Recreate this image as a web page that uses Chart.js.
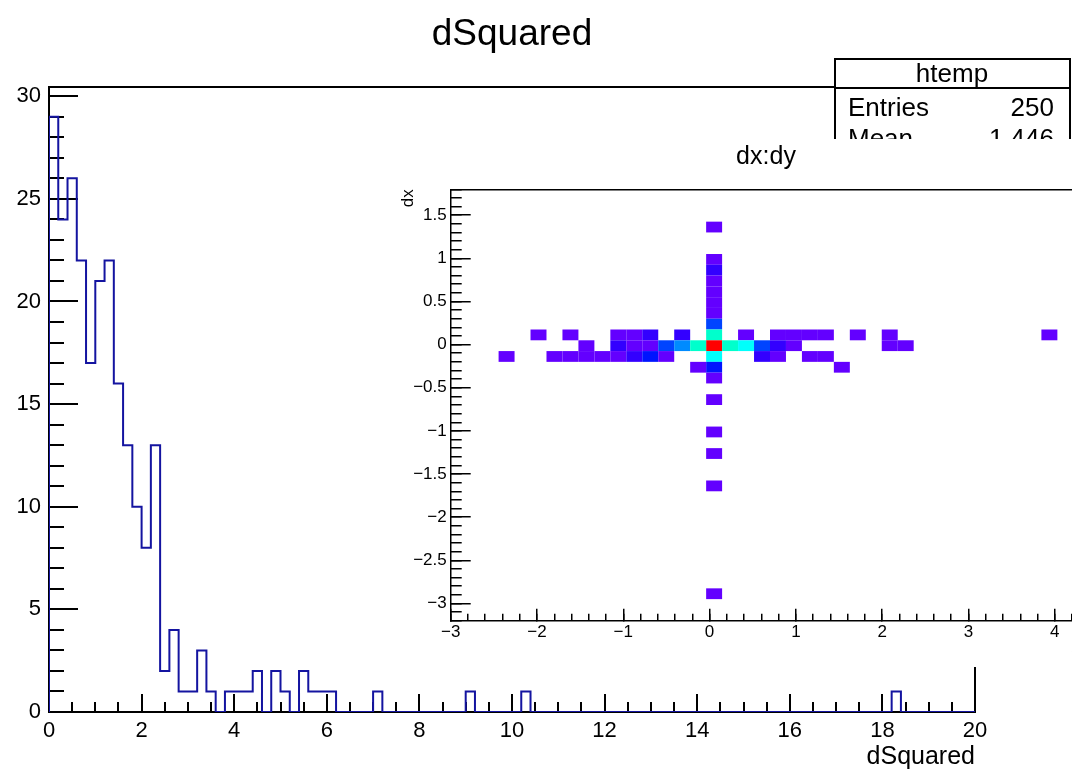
<!DOCTYPE html>
<html>
<head>
<meta charset="utf-8">
<title>dSquared</title>
<script src="https://cdn.jsdelivr.net/npm/chart.js@4.4.1/dist/chart.umd.min.js"></script>
<style>
html, body { margin: 0; padding: 0; background: #fff; overflow: hidden; width: 1072px; height: 773px; }
#dsqChart { position: absolute; left: 0; top: 0; }
#dxdyPad { position: absolute; left: 390px; top: 139px; width: 720px; height: 528px; background: #fff; }
</style>
</head>
<body>
<canvas id="dsqChart" width="1072" height="773"></canvas>
<div id="dxdyPad"><canvas id="dxdyChart" width="720" height="528"></canvas></div>
<script>
//////////////////////////////////
//   dSquared + dx:dy inset     //
//////////////////////////////////

// htemp : dSquared, 100 bins of 0.2 from 0
var dsqLow = 0;
var dsqBinWidth = 0.2;
var dsqCounts = [
    29, 24, 26, 22, 17, 21, 22, 16, 13, 10,
    8, 13, 2, 4, 1, 1, 3, 1, 0, 1,
    1, 1, 2, 0, 2, 1, 0, 2, 1, 1,
    1, 0, 0, 0, 0, 1, 0, 0, 0, 0,
    0, 0, 0, 0, 0, 1, 0, 0, 0, 0,
    0, 1, 0, 0, 0, 0, 0, 0, 0, 0,
    0, 0, 0, 0, 0, 0, 0, 0, 0, 0,
    0, 0, 0, 0, 0, 0, 0, 0, 0, 0,
    0, 0, 0, 0, 0, 0, 0, 0, 0, 0,
    0, 1, 0, 0, 0, 0, 0, 0, 0, 0
];
var dsqMean = '1.446';

// dx:dy, 40x40 bins (dy on the horizontal axis, dx on the vertical one)
var nBins2d = 40;
var dyLow = -3;
var dyBinWidth = 0.185;
var dxLow = -3.2;
var dxBinWidth = 0.125;
// filled cells only: bin along dy, bin along dx, entries
var cellIx = [
    16, 16, 16, 16, 16, 16, 16, 16, 16, 16, 16, 16, 16, 16, 16, 16, 16, 16,
    5, 7, 10, 11, 12, 14, 18, 20, 21, 22, 23, 25, 27, 37,
    8, 10, 11, 12, 13, 14, 15, 17, 18, 19, 20, 21, 27, 28,
    3, 6, 7, 8, 9, 10, 11, 12, 13, 19, 20, 22, 23,
    15, 24
];
var cellIy = [
    36, 33, 32, 31, 30, 29, 28, 27, 26, 25, 24, 23, 22, 20, 17, 15, 12, 2,
    26, 26, 26, 26, 26, 26, 26, 26, 26, 26, 26, 26, 26, 26,
    25, 25, 25, 25, 25, 25, 25, 25, 25, 25, 25, 25, 25, 25,
    24, 24, 24, 24, 24, 24, 24, 24, 24, 24, 24, 24, 24,
    23, 23
];
var cellCount = [
    1, 1, 3, 1, 1, 1, 1, 8, 18, 50, 16, 6, 1, 1, 1, 1, 1, 1,
    1, 1, 1, 1, 3, 3, 1, 1, 1, 1, 1, 1, 1, 1,
    1, 3, 1, 1, 8, 11, 18, 18, 16, 8, 3, 1, 1, 1,
    1, 1, 1, 1, 1, 1, 3, 6, 1, 3, 1, 1, 1,
    1, 1
];

var fontFamily = '"Liberation Sans", Arial, Helvetica, sans-serif';
Chart.defaults.font.family = fontFamily;
Chart.defaults.color = '#000';

// step outline of the 1D histogram, starting and ending on the baseline
var histPoints = [{ x: dsqLow, y: 0 }];
for (var i = 0; i < dsqCounts.length; i++) {
    histPoints.push({ x: dsqLow + i * dsqBinWidth, y: dsqCounts[i] });
}
histPoints.push({ x: dsqLow + dsqCounts.length * dsqBinWidth, y: 0 });
var dsqEntries = dsqCounts.reduce(function (a, b) { return a + b; }, 0);
var dsqTop = Math.max.apply(null, dsqCounts) * 1.05;

// ticks on every multiple of step inside the axis range
function everyStep(step) {
    return function (scale) {
        var ticks = [];
        var first = Math.ceil(scale.min / step - 1e-6);
        var last = Math.floor(scale.max / step + 1e-6);
        for (var k = first; k <= last; k++) {
            ticks.push({ value: Math.round(k * step * 1000) / 1000 });
        }
        scale.ticks = ticks;
    };
}

function tickText(value) {
    return String(value).replace('-', '\u2212');
}

// linear axis with inward tick marks; minor axes only carry the short marks
function makeAxis(position, min, max, step, tickLength, lineWidth, size, labels) {
    return {
        type: 'linear',
        position: position,
        min: min,
        max: max,
        bounds: 'data',
        z: 1,
        weight: labels ? 1 : 0,
        border: { display: !!labels, color: '#000', width: lineWidth },
        grid: { drawOnChartArea: false, color: '#000', lineWidth: lineWidth, tickLength: -tickLength },
        ticks: labels ? {
            autoSkip: false,
            maxRotation: 0,
            padding: labels.padding,
            font: { size: labels.size },
            color: '#000',
            callback: function (value) { return tickText(value); }
        } : { display: false },
        afterBuildTicks: everyStep(step),
        afterFit: function (scale) {
            if (scale.isHorizontal()) scale.height = size; else scale.width = size;
        }
    };
}

// plain frame line (top / right side of the frame)
function frameAxis(position, min, max, lineWidth) {
    return {
        type: 'linear',
        position: position,
        min: min,
        max: max,
        bounds: 'data',
        z: 1,
        border: { display: true, color: '#000', width: lineWidth },
        grid: { display: false },
        ticks: { display: false },
        afterFit: function (scale) {
            if (scale.isHorizontal()) scale.height = 0; else scale.width = 0;
        }
    };
}

// titles and the stat box of the main pad
var dsqDecor = {
    id: 'dsqDecor',
    afterDraw: function (chart) {
        var ctx = chart.ctx;
        var area = chart.chartArea;
        ctx.save();
        ctx.fillStyle = '#000';
        ctx.textBaseline = 'alphabetic';

        ctx.font = '37px ' + fontFamily;
        ctx.textAlign = 'center';
        ctx.fillText('dSquared', 512, 45);

        ctx.font = '25px ' + fontFamily;
        ctx.textAlign = 'right';
        ctx.fillText('dSquared', area.right, 764);

        // stat box
        ctx.fillStyle = '#fff';
        ctx.fillRect(835, 59, 235, 120);
        ctx.strokeStyle = '#000';
        ctx.lineWidth = 2;
        ctx.strokeRect(835, 59, 235, 120);
        ctx.beginPath();
        ctx.moveTo(835, 88);
        ctx.lineTo(1070, 88);
        ctx.stroke();

        ctx.fillStyle = '#000';
        ctx.font = '26px ' + fontFamily;
        ctx.textAlign = 'center';
        ctx.fillText('htemp', 952, 82);
        ctx.textAlign = 'left';
        ctx.fillText('Entries', 848, 116);
        ctx.fillText('Mean', 848, 147);
        ctx.textAlign = 'right';
        ctx.fillText(String(dsqEntries), 1054, 116);
        ctx.fillText(dsqMean, 1054, 147);
        ctx.restore();
    }
};

var dsqChart = new Chart(document.getElementById('dsqChart'), {
    type: 'line',
    data: {
        datasets: [{
            label: 'htemp',
            data: histPoints,
            stepped: true,
            fill: false,
            tension: 0,
            borderColor: '#1414a0',
            borderWidth: 2,
            pointRadius: 0
        }]
    },
    options: {
        responsive: false,
        animation: false,
        events: [],
        layout: { padding: { left: 0, top: 87, right: 97, bottom: 0 } },
        plugins: {
            legend: { display: false },
            tooltip: { enabled: false }
        },
        scales: {
            x: makeAxis('bottom', 0, 20, 2, 18, 2, 61, { padding: 24, size: 22 }),
            xMinor: makeAxis('bottom', 0, 20, 0.5, 10, 2, 0, null),
            y: makeAxis('left', 0, dsqTop, 5, 29, 2, 49, { padding: 37, size: 22 }),
            yMinor: makeAxis('left', 0, dsqTop, 1, 15, 2, 0, null),
            xTop: frameAxis('top', 0, 20, 2),
            yRight: frameAxis('right', 0, dsqTop, 2)
        }
    },
    plugins: [dsqDecor]
});

/* dx:dy colour palette, violet -> red in 50 hues, 20 contour levels */
function paletteColor(index) {
    var hue = 280 - (index + 1) * 280 / 50;
    function chan(h) {
        if (h > 360) h -= 360;
        if (h < 0) h += 360;
        if (h < 60) return h / 60;
        if (h < 180) return 1;
        if (h < 240) return (240 - h) / 60;
        return 0;
    }
    return 'rgb(' + Math.round(chan(hue + 120) * 255) + ',' +
        Math.round(chan(hue) * 255) + ',' +
        Math.round(chan(hue - 120) * 255) + ')';
}

function levelColor(count, zmax) {
    var level = Math.floor(0.01 + count * 20 / zmax);
    var index = Math.min(49, Math.floor((level + 0.99) * 50 / 20));
    return paletteColor(index);
}

var dxdyDecor = {
    id: 'dxdyDecor',
    beforeDatasetsDraw: function (chart) {
        var ctx = chart.ctx;
        var xs = chart.scales.x;
        var ys = chart.scales.y;
        var zmax = Math.max.apply(null, cellCount);
        ctx.save();
        for (var c = 0; c < cellCount.length; c++) {
            var x0 = xs.getPixelForValue(dyLow + cellIx[c] * dyBinWidth);
            var x1 = xs.getPixelForValue(dyLow + (cellIx[c] + 1) * dyBinWidth);
            var y0 = ys.getPixelForValue(dxLow + (cellIy[c] + 1) * dxBinWidth);
            var y1 = ys.getPixelForValue(dxLow + cellIy[c] * dxBinWidth);
            ctx.fillStyle = levelColor(cellCount[c], zmax);
            ctx.fillRect(x0, y0, x1 - x0, y1 - y0);
        }
        ctx.restore();
    },
    afterDraw: function (chart) {
        var ctx = chart.ctx;
        var area = chart.chartArea;
        ctx.save();
        ctx.fillStyle = '#000';
        ctx.textBaseline = 'alphabetic';

        ctx.font = '25px ' + fontFamily;
        ctx.textAlign = 'center';
        ctx.fillText('dx:dy', 376, 25);

        ctx.font = '17px ' + fontFamily;
        ctx.textAlign = 'right';
        ctx.fillText('dy', area.right, 517);

        ctx.translate(23, area.top);
        ctx.rotate(-Math.PI / 2);
        ctx.fillText('dx', 0, 0);
        ctx.restore();
    }
};

var dyHigh = dyLow + nBins2d * dyBinWidth;
var dxHigh = dxLow + nBins2d * dxBinWidth;

var dxdyChart = new Chart(document.getElementById('dxdyChart'), {
    type: 'scatter',
    data: { datasets: [] },
    options: {
        responsive: false,
        animation: false,
        events: [],
        layout: { padding: { left: 0, top: 50.3, right: 20.7, bottom: 0 } },
        plugins: {
            legend: { display: false },
            tooltip: { enabled: false }
        },
        scales: {
            x: makeAxis('bottom', dyLow, dyHigh, 1, 12, 1.5, 46.3, { padding: 13, size: 17 }),
            xMinor: makeAxis('bottom', dyLow, dyHigh, 0.2, 7, 1.5, 0, null),
            y: makeAxis('left', dxLow, dxHigh, 0.5, 20, 1.5, 60.7, { padding: 24, size: 17 }),
            yMinor: makeAxis('left', dxLow, dxHigh, 0.1, 11, 1.5, 0, null),
            xTop: frameAxis('top', dyLow, dyHigh, 1.5)
        }
    },
    plugins: [dxdyDecor]
});
</script>
</body>
</html>
